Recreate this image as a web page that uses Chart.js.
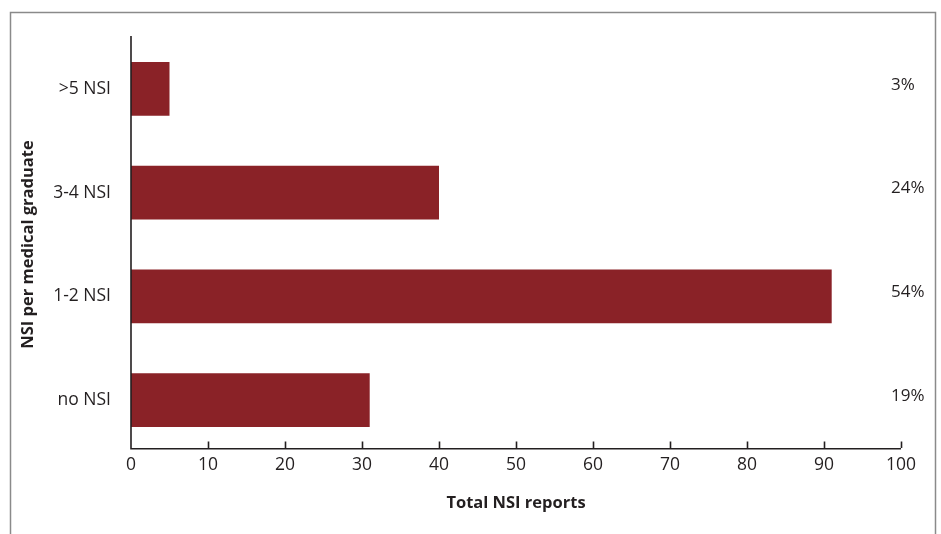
<!DOCTYPE html>
<html>
<head>
<meta charset="utf-8">
<script src="https://cdn.jsdelivr.net/npm/chart.js@4.4.0/dist/chart.umd.min.js"></script>
<style>
html,body{margin:0;padding:0;background:#fff;}
#wrap{width:941px;height:534px;position:relative;}
</style>
</head>
<body>
<div id="wrap"><canvas id="c" width="941" height="534"></canvas></div>
<script>
const categories = [">5 NSI", "3-4 NSI", "1-2 NSI", "no NSI"];
const reports = [5, 40, 91, 31];
const percentLabels = ["3%", "24%", "54%", "19%"];
const xTicks = [0, 10, 20, 30, 40, 50, 60, 70, 80, 90, 100];

const FONT = "'Open Sans', 'Noto Sans', sans-serif";
const TEXT = '#231f20';

const extras = {
  id: 'extras',
  beforeDraw(chart) {
    const ctx = chart.ctx;
    ctx.save();
    ctx.strokeStyle = '#8a8a8a';
    ctx.lineWidth = 1.5;
    ctx.beginPath();
    ctx.moveTo(10.5, 540);
    ctx.lineTo(10.5, 12.5);
    ctx.lineTo(935.5, 12.5);
    ctx.lineTo(935.5, 540);
    ctx.stroke();
    ctx.restore();
  },
  afterDraw(chart) {
    const ctx = chart.ctx;
    const x = chart.scales.x, y = chart.scales.y;
    const axisY = chart.chartArea.bottom - 4;
    const axisX = x.getPixelForValue(0);
    ctx.save();
    ctx.strokeStyle = TEXT;
    ctx.lineWidth = 1.6;
    // axis lines
    ctx.beginPath();
    ctx.moveTo(axisX, chart.chartArea.top - 1);
    ctx.lineTo(axisX, axisY + 0.8);
    ctx.lineTo(x.getPixelForValue(100), axisY + 0.8);
    ctx.stroke();
    // inward tick marks
    x.ticks.forEach(t => {
      if (t.value === 0) return;
      const px = Math.round(x.getPixelForValue(t.value)) + 0.5;
      ctx.beginPath();
      ctx.moveTo(px, axisY);
      ctx.lineTo(px, axisY - 6.5);
      ctx.stroke();
    });
    ctx.fillStyle = TEXT;
    ctx.font = "17px " + FONT;
    ctx.textAlign = 'left';
    ctx.textBaseline = 'middle';
    percentLabels.forEach((lab, i) => {
      ctx.fillText(lab, x.right - 10, y.getPixelForValue(i) - 4);
    });
    ctx.restore();
  }
};

new Chart(document.getElementById('c'), {
  type: 'bar',
  data: {
    labels: categories,
    datasets: [{
      data: reports,
      backgroundColor: '#8a2227',
      borderWidth: 0,
      barPercentage: 0.52,
      categoryPercentage: 1.0
    }]
  },
  options: {
    indexAxis: 'y',
    responsive: false,
    animation: false,
    devicePixelRatio: 1,
    layout: { padding: { left: 0, top: 37, right: 40, bottom: 0 } },
    plugins: { legend: { display: false }, tooltip: { enabled: false } },
    scales: {
      x: {
        type: 'linear',
        min: 0, max: 100,
        afterBuildTicks(scale) { scale.ticks = xTicks.map(v => ({ value: v })); },
        afterFit(scale) { scale.height = 82; },
        grid: { display: false, drawOnChartArea: false, drawTicks: false },
        border: { display: false },
        ticks: { color: TEXT, font: { family: FONT, size: 17.5 }, padding: 3, maxRotation: 0 },
        title: { display: true, text: 'Total NSI reports', color: TEXT, font: { family: FONT, size: 16.5, weight: 'bold' }, padding: { top: 10, bottom: 21 } }
      },
      y: {
        afterFit(scale) { scale.width = 131; },
        grid: { display: false, drawOnChartArea: false, drawTicks: false },
        border: { display: false },
        ticks: { color: TEXT, font: { family: FONT, size: 17.5 }, padding: 20 },
        title: { display: true, text: 'NSI per medical graduate', color: TEXT, font: { family: FONT, size: 16.5, weight: 'bold' }, padding: { top: 18, bottom: 0 } }
      }
    }
  },
  plugins: [extras]
});
</script>
</body>
</html>
